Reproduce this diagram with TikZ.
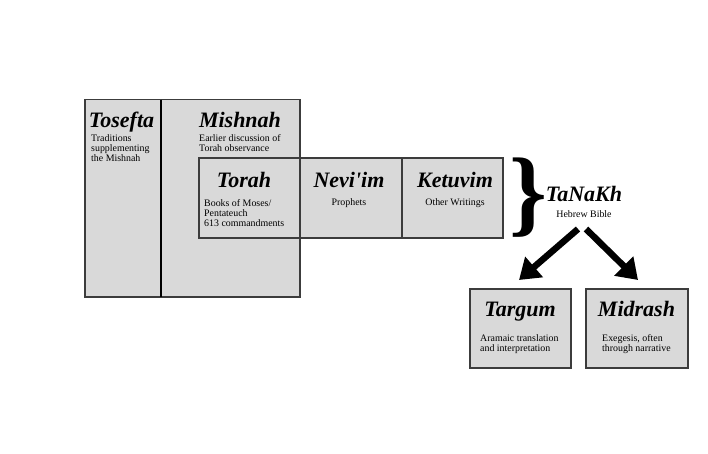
\documentclass[tikz,border=0pt]{standalone}
\usepackage{fontspec}
\setmainfont{Liberation Serif}
\usetikzlibrary{arrows.meta}
\definecolor{boxgray}{RGB}{217,217,217}
\definecolor{edgegray}{RGB}{60,60,60}
\tikzset{
  panel/.style={draw=edgegray, fill=boxgray, line width=1.3pt, inner sep=0pt},
  ttl/.style={font=\fontsize{22}{26}\selectfont\bfseries\itshape, inner sep=0pt},
  body/.style={font=\fontsize{9.9}{10}\selectfont, align=left, inner sep=0pt},
  bodyc/.style={font=\fontsize{9.9}{10}\selectfont, align=center, inner sep=0pt},
  bigarrow/.style={line width=6.5pt, -{Triangle[length=20pt,width=26pt]}}
}
\begin{document}
\begin{tikzpicture}[x=1pt,y=-1pt]
\useasboundingbox (0,0) rectangle (708,453);
% boxes
\path[panel] (161,99.5) rectangle (300,297);
\path[panel] (85,99.5) rectangle (161,297);
\draw[black, line width=1.3pt] (161,99.5) -- (161,297);
\path[panel] (199,158) rectangle (300,238);
\path[panel] (300,158) rectangle (402,238);
\path[panel] (402,158) rectangle (503,238);
\path[panel] (470,289) rectangle (571,368);
\path[panel] (586,289) rectangle (688,368);
% titles
\node[ttl, anchor=base] (tosefta) at (121.5,127) {Tosefta};
\node[ttl, anchor=base] (mishnah) at (240,127) {Mishnah};
\node[ttl, anchor=base] (torah) at (244,187) {Torah};
\node[ttl, anchor=base] (neviim) at (349,187) {Nevi\textquotesingle im};
\node[ttl, anchor=base] (ketuvim) at (455,187) {Ketuvim};
\node[ttl, anchor=base] (tanakh) at (584,201) {TaNaKh};
\node[ttl, anchor=base] (targum) at (520,316) {Targum};
\node[ttl, anchor=base] (midrash) at (636.5,316) {Midrash};
% bodies (base = last line)
\node[body, anchor=base west] (toseftab) at (91,161) {Traditions\\supplementing\\the Mishnah};
\node[body, anchor=base west] (mishnahb) at (199,151) {Earlier discussion of\\Torah observance};
\node[body, anchor=base west] (torahb) at (204,226) {Books of Moses/\\Pentateuch\\613 commandments};
\node[bodyc, anchor=base] (neviimb) at (349,205.5) {Prophets};
\node[bodyc, anchor=base] (ketuvimb) at (455,205.5) {Other Writings};
\node[bodyc, anchor=base] (tanakhb) at (584,217.5) {Hebrew Bible};
\node[body, anchor=base west] (targumb) at (480,351.5) {Aramaic translation\\and interpretation};
\node[body, anchor=base west] (midrashb) at (602,351.5) {Exegesis, often\\through narrative};
% brace
\node[inner sep=0pt, font=\fontsize{96}{96}\selectfont\bfseries] (brace) at (528.5,198) {\}};
% arrows
\coordinate (al) at (578,229);
\coordinate (ar) at (586,229);
\coordinate (tl) at (519,280);
\coordinate (tr) at (638,280);
\draw[bigarrow] (al) -- (tl);
\draw[bigarrow] (ar) -- (tr);
\end{tikzpicture}
\end{document}
